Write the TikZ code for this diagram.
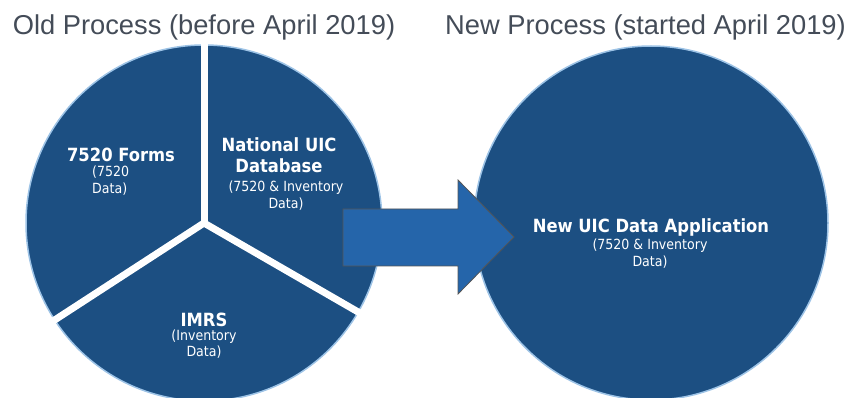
\documentclass[tikz,border=0pt]{standalone}
\usepackage{fontspec}
\setmainfont{Liberation Sans}
\newfontfamily\labfont{DejaVu Sans Condensed}
\definecolor{pie}{RGB}{28,79,130}
\definecolor{ring}{RGB}{157,195,230}
\definecolor{arrowfill}{RGB}{37,101,170}
\definecolor{arrowline}{RGB}{85,85,85}
\definecolor{titlegray}{RGB}{68,76,88}
\tikzset{
  disc/.style={circle, fill=pie, draw=ring, line width=1.5pt, minimum size=#1, inner sep=0pt},
  divider/.style={white, line width=7pt, shorten >=-1pt},
  ttl/.style={text=titlegray, font=\fontsize{27.3}{30}\selectfont, inner sep=0pt, anchor=base},
  headlab/.style={text=white, font=\labfont\bfseries\fontsize{18.2}{21}\selectfont, align=center, inner sep=0pt},
  sublab/.style={text=white, font=\labfont\fontsize{14}{17}\selectfont, align=center, inner sep=0pt},
  bigarrow/.style={fill=arrowfill, draw=arrowline, line width=0.8pt},
}
\begin{document}
\begin{tikzpicture}[x=1pt,y=-1pt]
\useasboundingbox (0,0) rectangle (852,398);
\clip (0,0) rectangle (852,398);
% titles
\node[ttl] (oldtitle) at (204,35) {Old Process (before April 2019)};
\node[ttl] (newtitle) at (645.5,35) {New Process (started April 2019)};
% old process pie
\node[disc=356pt] (old) at (204,223) {};
\draw[divider] (old.center) -- (old.90);
\draw[divider] (old.center) -- (old.213);
\draw[divider] (old.center) -- (old.330);
% new process circle
\node[disc=354pt] (new) at (651,223) {};
% arrow
\draw[bigarrow] (343,209) -- (458,209) -- (458,180) -- (514,237) -- (458,294) -- (458,266) -- (343,266) -- cycle;
% labels
\node[headlab] (formsh) at (121,155) {7520 Forms};
\node[sublab, align=left, anchor=west] (formss) at (92,181) {(7520\\Data)};
\node[headlab] (natlh) at (279,155.5) {National UIC\\Database};
\node[sublab, font=\labfont\fontsize{14}{16.5}\selectfont] (natls) at (286,195.5) {(7520 \& Inventory\\Data)};
\node[headlab] (imrsh) at (204,320) {IMRS};
\node[sublab, font=\labfont\fontsize{14}{15.5}\selectfont] (imrss) at (204,344) {(Inventory\\Data)};
\node[headlab] (newh) at (651,227) {New UIC Data Application};
\node[sublab, font=\labfont\fontsize{14}{16.5}\selectfont] (news) at (650,253.5) {(7520 \& Inventory\\Data)};
\end{tikzpicture}
\end{document}
